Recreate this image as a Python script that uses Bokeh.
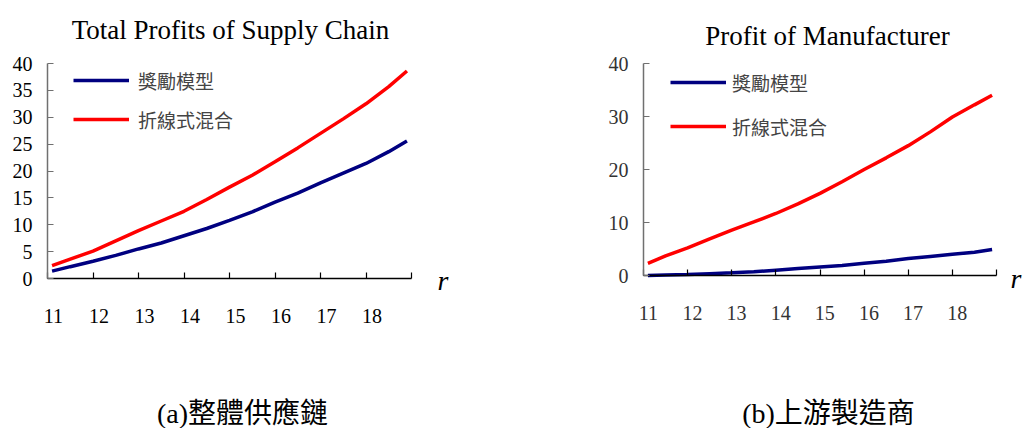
from bokeh.plotting import figure
from bokeh.models import Range1d, FixedTicker, Label, Legend, LegendItem, LinearAxis
from bokeh.layouts import row
from bokeh.embed import file_html
from bokeh.resources import INLINE

# ---- data ----
r = [11.1, 11.5, 12.0, 12.5, 13.0, 13.5, 14.0, 14.5, 15.0, 15.5, 16.0, 16.5, 17.0, 17.5, 18.0, 18.5, 18.9]
total_incentive = [1.37, 2.2, 3.2, 4.3, 5.5, 6.6, 7.95, 9.3, 10.8, 12.4, 14.2, 15.9, 17.8, 19.6, 21.4, 23.6, 25.6]
total_mixed = [2.4, 3.6, 5.1, 7.0, 8.9, 10.7, 12.5, 14.7, 17.0, 19.2, 21.7, 24.3, 27.0, 29.7, 32.5, 35.7, 38.6]
manu_incentive = [0.0, 0.1, 0.2, 0.35, 0.5, 0.7, 1.0, 1.3, 1.6, 1.9, 2.3, 2.7, 3.2, 3.6, 4.0, 4.4, 4.9]
manu_mixed = [2.3, 3.7, 5.2, 6.9, 8.55, 10.1, 11.7, 13.5, 15.5, 17.7, 20.0, 22.2, 24.5, 27.1, 29.9, 32.2, 34.0]

x_ticks = [11, 12, 13, 14, 15, 16, 17, 18, 19]
x_tick_labels = ["11", "12", "13", "14", "15", "16", "17", "18"]
left_y_ticks = [0, 5, 10, 15, 20, 25, 30, 35, 40]
right_y_ticks = [0, 10, 20, 30, 40]
series_names = ["獎勵模型", "折線式混合"]
titles = ["Total Profits of Supply Chain", "Profit of Manufacturer"]
captions = ["(a)整體供應鏈", "(b)上游製造商"]

SERIF = "Liberation Serif"
CJK = "Noto Sans CJK TC"
NAVY = "#000080"
RED = "#ff0000"
H = 428
DY = 8  # correction for screen-unit labels


def make_chart(width, x0_px, xscale, y0_px, yscale, yticks, ys, title, caption,
               title_xy, caption_xy, r_xy, legend_loc, legend_spacing,
               label_standoff, tick_color, label_shift):
    # frame covers the whole canvas; axes are fixed at x=11 / y=0
    x_start = 11 - x0_px / xscale
    x_end = 11 + (width - x0_px) / xscale
    y_end = (y0_px) / yscale
    y_start = -(H - y0_px) / yscale
    p = figure(width=width, height=H, output_backend="svg", toolbar_location=None,
               x_range=Range1d(x_start, x_end), y_range=Range1d(y_start, y_end),
               min_border=0, x_axis_type=None, y_axis_type=None)
    p.outline_line_color = None
    p.grid.visible = False
    p.background_fill_color = None
    p.border_fill_color = "white"

    # x axis: labels sit slightly right of the tick marks (as in the original),
    # so the labelled positions are major ticks and the tick marks are minor ticks
    label_pos = [x_ticks[i] + label_shift for i in range(len(x_tick_labels))]
    xa = LinearAxis(fixed_location=0, bounds=(11, 19),
                    ticker=FixedTicker(ticks=label_pos, minor_ticks=x_ticks),
                    major_label_overrides={pos: lab for pos, lab in zip(label_pos, x_tick_labels)},
                    axis_line_color="black", axis_line_width=1.5,
                    major_tick_line_color=None,
                    minor_tick_line_color="black", minor_tick_line_width=1.2,
                    minor_tick_in=6, minor_tick_out=0,
                    major_label_standoff=24, major_label_text_font=SERIF,
                    major_label_text_font_size="20px", major_label_text_color=tick_color)
    ya = LinearAxis(fixed_location=11, bounds=(0, 40), ticker=FixedTicker(ticks=yticks),
                    axis_line_color="#707070", axis_line_width=1.5,
                    major_tick_line_color="#707070", major_tick_in=6, major_tick_out=0,
                    minor_tick_line_color=None, major_label_standoff=15,
                    major_label_text_font=SERIF, major_label_text_font_size="20px",
                    major_label_text_color=tick_color)
    p.add_layout(xa, "below")
    p.add_layout(ya, "left")

    l1 = p.line(r, ys[0], line_color=NAVY, line_width=3.5)
    l2 = p.line(r, ys[1], line_color=RED, line_width=3.5)

    legend = Legend(items=[LegendItem(label=series_names[0], renderers=[l1]),
                           LegendItem(label=series_names[1], renderers=[l2])],
                    location=legend_loc, padding=0, margin=0, spacing=legend_spacing,
                    glyph_width=56, glyph_height=28, label_height=28,
                    label_standoff=label_standoff,
                    label_text_font=CJK, label_text_font_size="19px",
                    border_line_color=None, background_fill_alpha=0)
    p.add_layout(legend, "center")

    p.add_layout(Label(x=title_xy[0], y=title_xy[1] + DY, x_units="screen", y_units="screen",
                       text=title, text_font=SERIF, text_font_size="27px",
                       text_align="center", text_baseline="alphabetic", text_color="black"))
    p.add_layout(Label(x=caption_xy[0], y=caption_xy[1] + DY, x_units="screen", y_units="screen",
                       text=caption, text_font=f"{SERIF}, {CJK}", text_font_size="28px",
                       text_align="center", text_baseline="alphabetic", text_color="black"))
    p.add_layout(Label(x=r_xy[0], y=r_xy[1] + DY, x_units="screen", y_units="screen",
                       text="r", text_font=SERIF, text_font_size="28px", text_font_style="italic",
                       text_align="left", text_baseline="alphabetic", text_color="black"))
    return p


# left: x=11 at px 47, 45.5 px/unit; y=0 at px 278, 5.375 px/unit
p1 = make_chart(510, 47, 45.5, 278, 5.375, left_y_ticks, [total_incentive, total_mixed],
                titles[0], captions[0], (230, H - 37), (242, 7), (437, H - 288),
                (73, H - 133), 11, 9, "black", 0.13)
# right: x=11 at px 133, 44.125 px/unit; y=0 at px 275, 5.3 px/unit
p2 = make_chart(517, 133, 44.125, 275, 5.3, right_y_ticks, [manu_incentive, manu_mixed],
                titles[1], captions[1], (317, H - 43), (318, 7), (500, H - 286),
                (160, H - 140), 16, 6, "#333333", 0.11)

layout = row(p1, p2, spacing=0)
open("out.html", "w").write(file_html(layout, INLINE))
